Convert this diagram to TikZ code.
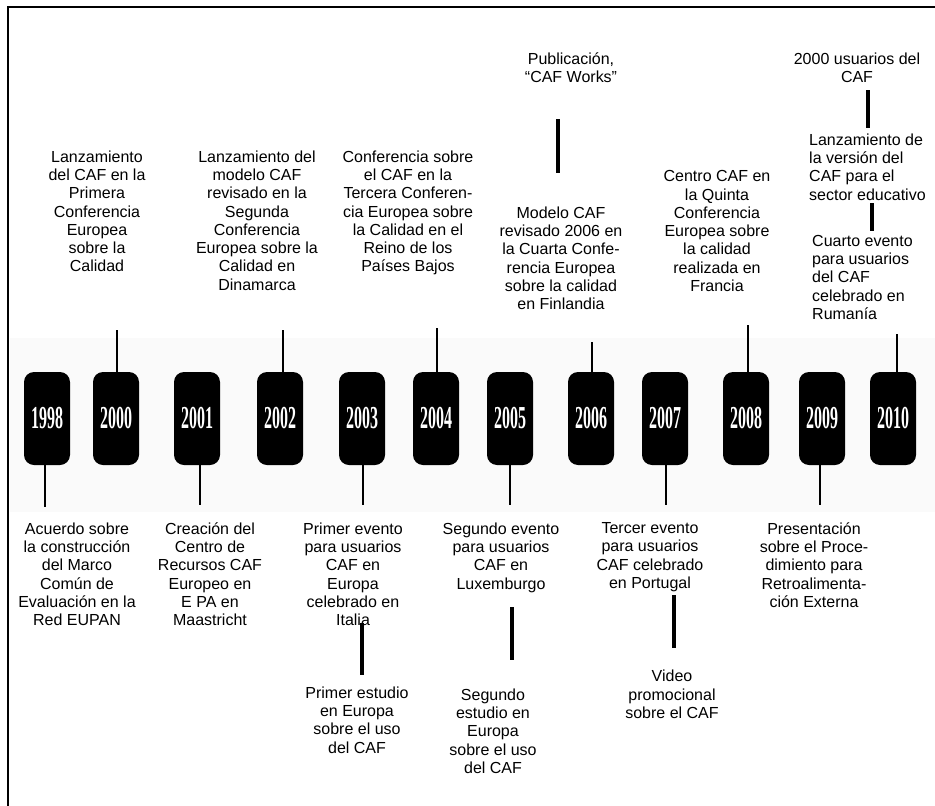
\documentclass[tikz,border=0pt]{standalone}
\usepackage{fontspec}
\setmainfont{Liberation Sans}
\newfontfamily\yearfont{Liberation Serif}
\usepackage{graphicx}
\newcommand\yeartxt[1]{\scalebox{0.5}[1]{\yearfont\bfseries\fontsize{32}{32}\selectfont #1}}
\begin{document}
\begin{tikzpicture}[x=1pt,y=-1pt,
  txt/.style={font=\fontsize{16}{18.3}\selectfont, align=center, anchor=north, inner sep=0pt},
  txtl/.style={txt, align=left, anchor=north west},
  yearbox/.style={fill=black, rounded corners=10pt, minimum width=46pt, minimum height=93pt, inner sep=0pt, text=white},
  stem/.style={line width=1.6pt},
  bar/.style={line width=4pt},
  frame/.style={line width=2pt}]
\useasboundingbox (0,0) rectangle (935,806);
% faint band
\fill[black!2] (10,338) rectangle (935,512);
% frame
\coordinate (fa) at (8,806);
\coordinate (fb) at (8,7);
\coordinate (fc) at (935,7);
\draw[frame] (fa) -- (fb) -- (fc);

% year boxes
\node[yearbox] (y1998) at (47,418.5) {\yeartxt{1998}};
\node[yearbox] (y2000) at (116,418.5) {\yeartxt{2000}};
\node[yearbox] (y2001) at (197,418.5) {\yeartxt{2001}};
\node[yearbox] (y2002) at (280,418.5) {\yeartxt{2002}};
\node[yearbox] (y2003) at (362,418.5) {\yeartxt{2003}};
\node[yearbox] (y2004) at (436,418.5) {\yeartxt{2004}};
\node[yearbox] (y2005) at (510,418.5) {\yeartxt{2005}};
\node[yearbox] (y2006) at (591,418.5) {\yeartxt{2006}};
\node[yearbox] (y2007) at (665,418.5) {\yeartxt{2007}};
\node[yearbox] (y2008) at (746,418.5) {\yeartxt{2008}};
\node[yearbox] (y2009) at (822,418.5) {\yeartxt{2009}};
\node[yearbox] (y2010) at (893,418.5) {\yeartxt{2010}};

% stems up
\coordinate (s2000) at (117,330);
\coordinate (s2002) at (283,330);
\coordinate (s2004) at (437,328);
\coordinate (s2006) at (592,342);
\coordinate (s2008) at (748,325);
\coordinate (s2010) at (897,334);
\draw[stem] (s2000) -- (s2000 |- y2000.north);
\draw[stem] (s2002) -- (s2002 |- y2002.north);
\draw[stem] (s2004) -- (s2004 |- y2004.north);
\draw[stem] (s2006) -- (s2006 |- y2006.north);
\draw[stem] (s2008) -- (s2008 |- y2008.north);
\draw[stem] (s2010) -- (s2010 |- y2010.north);
% stems down
\coordinate (s1998) at (45,507);
\coordinate (s2001) at (200,505);
\coordinate (s2003) at (363,505);
\coordinate (s2005) at (510,505);
\coordinate (s2007) at (666,505);
\coordinate (s2009) at (820,505);
\draw[stem] (s1998 |- y1998.south) -- (s1998);
\draw[stem] (s2001 |- y2001.south) -- (s2001);
\draw[stem] (s2003 |- y2003.south) -- (s2003);
\draw[stem] (s2005 |- y2005.south) -- (s2005);
\draw[stem] (s2007 |- y2007.south) -- (s2007);
\draw[stem] (s2009 |- y2009.south) -- (s2009);

% top texts
\node[txt] (t1) at (97,150.4) {Lanzamiento\\del CAF en la\\Primera\\Conferencia\\Europea\\sobre la\\Calidad};
\node[txt] (t2) at (257,150.4) {Lanzamiento del\\modelo CAF\\revisado en la\\Segunda\\Conferencia\\Europea sobre la\\Calidad en\\Dinamarca};
\node[txt] (t3) at (408,150.4) {Conferencia sobre\\el CAF en la\\Tercera Conferen-\\cia Europea sobre\\la Calidad en el\\Reino de los\\Países Bajos};
\node[txt] (t4) at (571,52.4) {Publicación,\\“CAF Works”};
\node[txt] (t5) at (561,206.4) {Modelo CAF\\revisado 2006 en\\la Cuarta Confe-\\rencia Europea\\sobre la calidad\\en Finlandia};
\node[txt] (t6) at (717,170.4) {Centro CAF en\\la Quinta\\Conferencia\\Europea sobre\\la calidad\\realizada en\\Francia};
\node[txt] (t7) at (857,52.4) {2000 usuarios del\\CAF};
\node[txtl] (t8) at (809,133.4) {Lanzamiento de\\la versión del\\CAF para el\\sector educativo};
\node[txtl] (t9) at (812,234.9) {Cuarto evento\\para usuarios\\del CAF\\celebrado en\\Rumanía};

% bottom texts
\node[txt] (b1) at (77,522.4) {Acuerdo sobre\\la construcción\\del Marco\\Común de\\Evaluación en la\\Red EUPAN};
\node[txt] (b2) at (210,522.4) {Creación del\\Centro de\\Recursos CAF\\Europeo en\\E PA en\\Maastricht};
\node[txt] (b3) at (353,522.4) {Primer evento\\para usuarios\\CAF en\\Europa\\celebrado en\\Italia};
\node[txt] (b4) at (357,686.4) {Primer estudio\\en Europa\\sobre el uso\\del CAF};
\node[txt] (b5) at (501,522.4) {Segundo evento\\para usuarios\\CAF en\\Luxemburgo};
\node[txt] (b6) at (493,688.4) {Segundo\\estudio en\\Europa\\sobre el uso\\del CAF};
\node[txt] (b7) at (650,522.4) {Tercer evento\\para usuarios\\CAF celebrado\\en Portugal};
\node[txt] (b8) at (672,669.9) {Video\\promocional\\sobre el CAF};
\node[txt] (b9) at (814,522.4) {Presentación\\sobre el Proce-\\dimiento para\\Retroalimenta-\\ción Externa};

% thick bars
\coordinate (p1a) at (558,119); \coordinate (p1b) at (558,173);
\coordinate (p2a) at (868,90);  \coordinate (p2b) at (868,128);
\coordinate (p3a) at (872,203); \coordinate (p3b) at (872,231);
\coordinate (p4a) at (362,623); \coordinate (p4b) at (362,675);
\coordinate (p5a) at (512,607); \coordinate (p5b) at (512,660);
\coordinate (p6a) at (674,595); \coordinate (p6b) at (674,648);
\draw[bar] (p1a) -- (p1b);
\draw[bar] (p2a) -- (p2b);
\draw[bar] (p3a) -- (p3b);
\draw[bar] (p4a) -- (p4b);
\draw[bar] (p5a) -- (p5b);
\draw[bar] (p6a) -- (p6b);
\end{tikzpicture}
\end{document}
